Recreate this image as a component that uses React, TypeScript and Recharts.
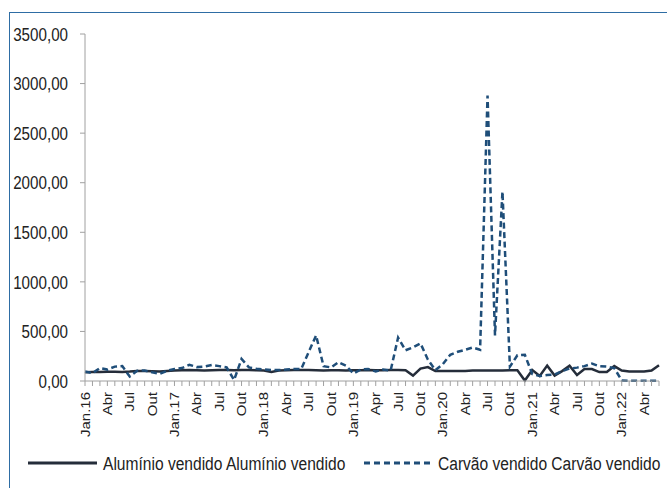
import { LineChart, Line, XAxis, YAxis, Legend } from 'recharts';

// monthly categories, Jan.16 .. Jun.22
const months = [
  'jan16', 'fev16', 'mar16', 'abr16', 'mai16', 'jun16', 'jul16', 'ago16', 'set16', 'out16', 'nov16', 'dez16',
  'jan17', 'fev17', 'mar17', 'abr17', 'mai17', 'jun17', 'jul17', 'ago17', 'set17', 'out17', 'nov17', 'dez17',
  'jan18', 'fev18', 'mar18', 'abr18', 'mai18', 'jun18', 'jul18', 'ago18', 'set18', 'out18', 'nov18', 'dez18',
  'jan19', 'fev19', 'mar19', 'abr19', 'mai19', 'jun19', 'jul19', 'ago19', 'set19', 'out19', 'nov19', 'dez19',
  'jan20', 'fev20', 'mar20', 'abr20', 'mai20', 'jun20', 'jul20', 'ago20', 'set20', 'out20', 'nov20', 'dez20',
  'jan21', 'fev21', 'mar21', 'abr21', 'mai21', 'jun21', 'jul21', 'ago21', 'set21', 'out21', 'nov21', 'dez21',
  'jan22', 'fev22', 'mar22', 'abr22', 'mai22', 'jun22',
];

// one label every three months
const quarterLabels = [
  'Jan.16', 'Abr', 'Jul', 'Out',
  'Jan.17', 'Abr', 'Jul', 'Out',
  'Jan.18', 'Abr', 'Jul', 'Out',
  'Jan.19', 'Apr', 'Jul', 'Out',
  'Jan.20', 'Abr', 'Jul', 'Out',
  'Jan.21', 'Abr', 'Jul', 'Out',
  'Jan.22', 'Abr',
];

const aluminio = [
  88, 90, 92, 93, 93, 92, 95, 100, 100, 98, 97, 102,
  105, 108, 110, 108, 107, 108, 110, 110, 108, 110, 110, 108,
  105, 92, 105, 108, 110, 110, 110, 108, 107, 108, 108, 107,
  108, 108, 110, 108, 108, 110, 110, 108, 55, 125, 140, 100,
  100, 100, 102, 102, 105, 105, 105, 107, 107, 108, 108, 5,
  110, 50, 155, 55, 100, 155, 60, 120, 120, 90, 90, 150,
  105, 95, 95, 95, 105, 160,
];

const carvao = [
  96, 79, 130, 115, 145, 150, 45, 103, 106, 89, 72, 103,
  120, 130, 164, 140, 145, 161, 150, 137, 10, 222, 137, 123,
  116, 110, 110, 116, 120, 120, 290, 460, 150, 137, 190, 155,
  75, 116, 120, 96, 116, 106, 438, 310, 340, 380, 215, 110,
  170, 265, 295, 315, 338, 315, 2880, 460, 1910, 145, 260, 265,
  70, 50, 60, 65, 100, 125, 135, 150, 175, 150, 145, 130,
  5, 3, 3, 3, 3, 3,
];

const yTicks = [0, 500, 1000, 1500, 2000, 2500, 3000, 3500];

const data = months.map((month, i) => ({
  month,
  aluminio: aluminio[i],
  carvao: carvao[i],
}));

// no Arial Narrow here: squeeze Liberation Sans instead
const FONT = "'Liberation Sans', Arial, sans-serif";
const NARROW = 0.82;
const SOLID = '#252d3a';
const DASHED = '#1f4e79';
const TEXT = '#222';

const MonthTick = ({ x, y, payload }: any) => {
  const i = payload.index;
  if (i % 3 !== 0) return null;
  return (
    <g transform={`translate(${x},${y})`}>
      <text
        x={0}
        y={0}
        dy={5.4}
        textAnchor="end"
        transform="rotate(-90) scale(1,0.84)"
        fontSize={15}
        fontFamily={FONT}
        fill={TEXT}
      >
        {quarterLabels[i / 3]}
      </text>
    </g>
  );
};

const ValueTick = ({ x, y, payload }: any) => (
  <text
    x={0}
    y={0}
    dy="0.36em"
    textAnchor="end"
    transform={`translate(${x},${y}) scale(${NARROW},1)`}
    fontSize={18.5}
    fontFamily={FONT}
    fill={TEXT}
  >
    {payload.value.toFixed(2).replace('.', ',')}
  </text>
);

const LegendContent = () => (
  <svg width={667} height={24} style={{ display: 'block' }}>
    <line x1={28} y1={12} x2={97} y2={12} stroke={SOLID} strokeWidth={3} />
    <text
      x={0}
      y={0}
      dy="0.36em"
      transform={`translate(103,12) scale(${NARROW},1)`}
      fontSize={19}
      fontFamily={FONT}
      fill={TEXT}
    >
      Alumínio vendido Alumínio vendido
    </text>
    <line x1={364} y1={12} x2={432} y2={12} stroke={DASHED} strokeWidth={3} strokeDasharray="6 4" />
    <text
      x={0}
      y={0}
      dy="0.36em"
      transform={`translate(438,12) scale(${NARROW},1)`}
      fontSize={19}
      fontFamily={FONT}
      fill={TEXT}
    >
      Carvão vendido Carvão vendido
    </text>
  </svg>
);

export default function App() {
  return (
    <div style={{ position: 'absolute', left: 0, top: 0, width: 667, height: 488, background: '#fff', overflow: 'hidden' }}>
      {/* blue frame, only top and left edges are in view */}
      <div
        style={{
          position: 'absolute',
          left: 9,
          top: 12,
          width: 700,
          height: 520,
          borderLeft: '1.5px solid #2e6da4',
          borderTop: '1.5px solid #2e6da4',
        }}
      />
      <div style={{ position: 'absolute', left: 0, top: 0 }}>
        <LineChart width={667} height={488} data={data} margin={{ top: 34, right: 8, bottom: 37, left: 0 }}>
          <XAxis
            dataKey="month"
            interval={0}
            height={70}
            tick={<MonthTick />}
            tickSize={5}
            tickMargin={6}
            axisLine={{ stroke: '#a0a0a0' }}
            tickLine={{ stroke: '#a0a0a0' }}
          />
          <YAxis
            width={85}
            domain={[0, 3500]}
            ticks={yTicks}
            interval={0}
            tickSize={5}
            tickMargin={12}
            tick={<ValueTick />}
            axisLine={{ stroke: '#a0a0a0' }}
            tickLine={{ stroke: '#a0a0a0' }}
          />
          <Legend
            verticalAlign="middle"
            align="center"
            layout="horizontal"
            content={<LegendContent />}
            wrapperStyle={{ left: 0, top: 451, width: 667 }}
          />
          <Line
            type="linear"
            dataKey="aluminio"
            name="Alumínio vendido"
            stroke={SOLID}
            strokeWidth={2.5}
            dot={false}
            isAnimationActive={false}
          />
          <Line
            type="linear"
            dataKey="carvao"
            name="Carvão vendido"
            stroke={DASHED}
            strokeWidth={2.5}
            strokeDasharray="6 3.5"
            dot={false}
            isAnimationActive={false}
          />
        </LineChart>
      </div>
    </div>
  );
}
